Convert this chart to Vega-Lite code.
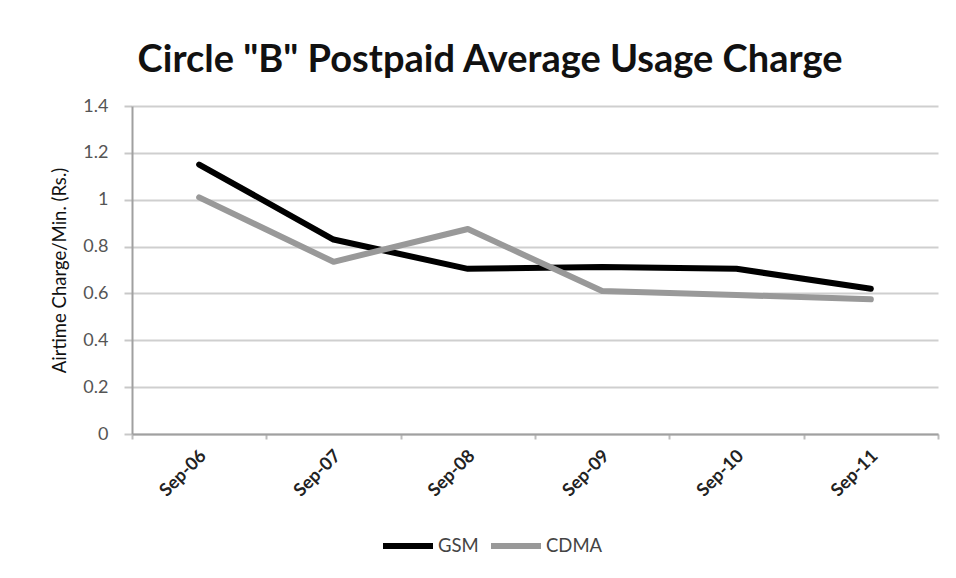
{
  "$schema": "https://vega.github.io/schema/vega-lite/v6.json",
  "width": 806,
  "height": 328,
  "autosize": {"type": "none"},
  "padding": {"left": 132, "top": 106, "right": 18, "bottom": 144},
  "background": "white",
  "title": {
    "text": "Circle \"B\" Postpaid Average Usage Charge",
    "font": "Lato",
    "fontSize": 38,
    "fontWeight": "bold",
    "color": "#111111",
    "anchor": "middle",
    "dx": -45,
    "offset": 17
  },
  "data": {
    "values": [
      {"month": "Sep-06", "series": "GSM", "charge": 1.15},
      {"month": "Sep-07", "series": "GSM", "charge": 0.83},
      {"month": "Sep-08", "series": "GSM", "charge": 0.705},
      {"month": "Sep-09", "series": "GSM", "charge": 0.713},
      {"month": "Sep-10", "series": "GSM", "charge": 0.705},
      {"month": "Sep-11", "series": "GSM", "charge": 0.62},
      {"month": "Sep-06", "series": "CDMA", "charge": 1.01},
      {"month": "Sep-07", "series": "CDMA", "charge": 0.735},
      {"month": "Sep-08", "series": "CDMA", "charge": 0.875},
      {"month": "Sep-09", "series": "CDMA", "charge": 0.61},
      {"month": "Sep-10", "series": "CDMA", "charge": 0.593},
      {"month": "Sep-11", "series": "CDMA", "charge": 0.575}
    ]
  },
  "mark": {"type": "line", "strokeWidth": 6, "strokeCap": "round", "strokeJoin": "round"},
  "encoding": {
    "x": {
      "field": "month",
      "type": "ordinal",
      "sort": null,
      "scale": {"type": "band", "paddingInner": 0, "paddingOuter": 0},
      "axis": {
        "title": null,
        "labelAngle": -45,
        "labelAlign": "right",
        "labelBaseline": "middle",
        "labelFont": "Lato",
        "labelFontWeight": "bold",
        "labelFontSize": 18,
        "labelColor": "#222222",
        "labelPadding": 14,
        "labelOffset": 4,
        "domainColor": "#a0a0a0",
        "domainWidth": 2,
        "tickColor": "#bdbdbd",
        "tickWidth": 2,
        "tickSize": 5,
        "tickBand": "extent",
        "grid": false
      }
    },
    "y": {
      "field": "charge",
      "type": "quantitative",
      "scale": {"domain": [0, 1.4], "nice": false},
      "axis": {
        "title": "Airtime Charge/Min. (Rs.)",
        "titleFont": "Lato",
        "titleFontSize": 18.5,
        "titleFontWeight": "normal",
        "titleColor": "#111111",
        "titlePadding": 13,
        "values": [0, 0.2, 0.4, 0.6, 0.8, 1, 1.2, 1.4],
        "labelFont": "Lato",
        "labelFontSize": 18,
        "labelColor": "#555555",
        "labelPadding": 16,
        "labelExpr": "datum.value == 0 || datum.value == 1 ? format(datum.value, 'd') : format(datum.value, '.1f')",
        "domainColor": "#a0a0a0",
        "domainWidth": 2,
        "tickColor": "#c8c8c8",
        "tickWidth": 2,
        "tickSize": 8,
        "gridColor": "#cfcfcf",
        "gridWidth": 2
      }
    },
    "color": {
      "field": "series",
      "type": "nominal",
      "sort": ["GSM", "CDMA"],
      "scale": {"domain": ["GSM", "CDMA"], "range": ["#000000", "#999999"]},
      "legend": {
        "title": null,
        "orient": "none",
        "direction": "horizontal",
        "legendX": 248,
        "legendY": 412,
        "padding": 0,
        "symbolType": "stroke",
        "symbolSize": 2500,
        "symbolStrokeWidth": 6,
        "labelFont": "Lato",
        "labelFontSize": 18.5,
        "labelColor": "#444444",
        "labelOffset": 2,
        "columnPadding": 0
      }
    }
  },
  "config": {
    "view": {"stroke": null}
  }
}
